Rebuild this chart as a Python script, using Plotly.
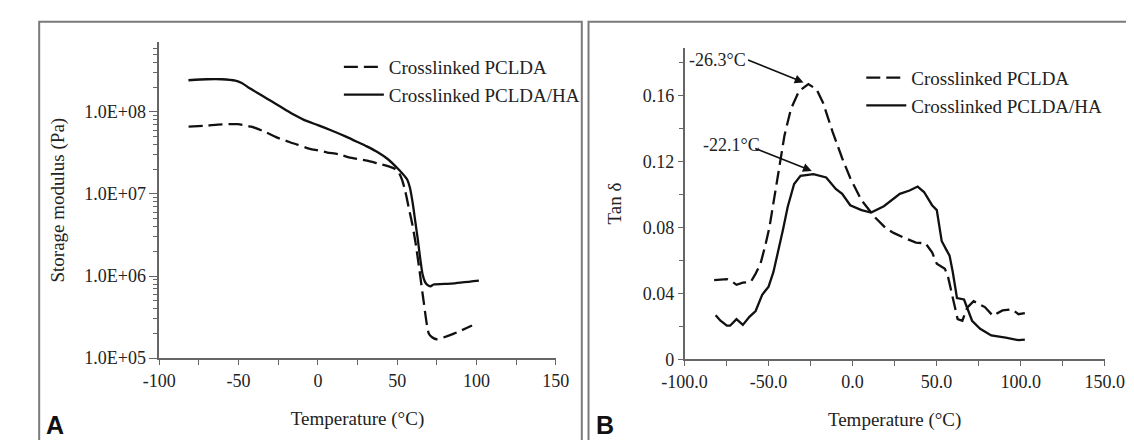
import plotly.graph_objects as go

# ---------------- Data ----------------
# Panel A: storage modulus (Pa) vs temperature (°C)
a_temp_pclda = [-81.5, -70, -63, -50.5, -42, -35, -26, -18, -13, -5, 0, 6, 13, 19.5, 26, 31, 38,
                43.6, 48, 50.5, 53, 55, 57.5, 59.5, 61.5, 64, 66.5, 69.9, 72, 75, 86, 97.2]
a_mod_pclda = [6.6e7, 6.8e7, 7.0e7, 7.1e7, 6.6e7, 5.9e7, 4.9e7, 4.3e7, 4.0e7, 3.55e7, 3.4e7, 3.2e7,
               3.05e7, 2.8e7, 2.65e7, 2.55e7, 2.35e7, 2.2e7, 2.05e7, 1.9e7, 1.5e7, 1.1e7, 6.5e6,
               4.3e6, 2.6e6, 1.2e6, 5.2e5, 2.0e5, 1.8e5, 1.7e5, 2.0e5, 2.5e5]
a_temp_ha = [-81.6, -70, -60.7, -52, -48, -44, -38, -32, -26.4, -20, -15, -8.8, 0, 9, 17.7, 25,
             30.9, 38, 44.2, 50.8, 54.7, 56.3, 58, 59.8, 61.5, 63, 64, 65, 66, 67.5, 69, 71, 72.9,
             84, 101.5]
a_mod_ha = [2.43e8, 2.5e8, 2.5e8, 2.4e8, 2.25e8, 2.0e8, 1.7e8, 1.45e8, 1.25e8, 1.05e8, 9.2e7,
            8.0e7, 6.9e7, 5.9e7, 5.0e7, 4.3e7, 3.8e7, 3.2e7, 2.65e7, 2.0e7, 1.65e7, 1.5e7, 1.2e7,
            7.7e6, 4.5e6, 2.8e6, 1.95e6, 1.4e6, 1.05e6, 8.5e5, 7.8e5, 7.5e5, 7.9e5, 8.1e5, 8.8e5]

# Panel B: tan delta vs temperature (°C)
b_temp_pclda = [-82.4, -74.8, -71.5, -69.1, -65.3, -60.5, -57.7, -54.8, -52, -49.5, -44.3, -40.5,
                -36.7, -31.9, -26.3, -21.4, -17.6, -11.9, -6.2, -1.4, 5.3, 12.9, 19.6, 24.4, 30,
                37.7, 43.4, 47.3, 50.1, 54.9, 56.8, 59.6, 62.5, 65.3, 68.2, 72, 78.7, 83.5, 89.2,
                94.9, 98.7, 102.5]
b_tan_pclda = [0.0481, 0.0487, 0.047, 0.0452, 0.0465, 0.0471, 0.052, 0.058, 0.0689, 0.080, 0.1123,
               0.136, 0.1518, 0.1627, 0.167, 0.1637, 0.1557, 0.138, 0.122, 0.110, 0.0965, 0.0866,
               0.0797, 0.0767, 0.074, 0.0708, 0.0704, 0.0649, 0.058, 0.055, 0.050, 0.0372, 0.0244,
               0.0234, 0.0313, 0.0353, 0.0317, 0.0264, 0.0297, 0.0303, 0.0274, 0.028]
b_temp_ha = [-81.5, -78.6, -74.8, -72.9, -69.1, -65.3, -61.4, -57.7, -53.8, -50, -47.1, -44.3,
             -41.4, -38.6, -34.8, -31, -23.3, -15.7, -10, -6.2, -1.4, 5.3, 11, 18.6, 28.1, 33.9,
             38.7, 42.5, 47.3, 50.1, 53, 55.8, 57.7, 59.6, 62.1, 66.3, 68.2, 71.1, 75.9, 82.5,
             91.1, 94.9, 98.7, 102.5]
b_tan_ha = [0.0268, 0.0234, 0.0204, 0.0204, 0.0244, 0.0209, 0.0258, 0.0293, 0.0392, 0.0441, 0.053,
            0.0649, 0.0787, 0.0926, 0.1064, 0.1113, 0.1123, 0.1103, 0.1034, 0.1004, 0.0935, 0.0905,
            0.089, 0.0929, 0.1004, 0.1024, 0.1048, 0.1015, 0.0935, 0.0905, 0.0718, 0.0664, 0.0629,
            0.053, 0.0372, 0.0363, 0.0313, 0.0234, 0.0185, 0.0145, 0.0132, 0.0126, 0.0116, 0.012]

series_names = ["Crosslinked PCLDA", "Crosslinked PCLDA/HA"]
x_tickvals = [-100, -50, 0, 50, 100, 150]
a_xticktext = ["-100", "-50", "0", "50", "100", "150"]
b_xticktext = ["-100.0", "-50.0", "0.0", "50.0", "100.0", "150.0"]
a_ytickvals = [1e5, 1e6, 1e7, 1e8]
a_yticktext = ["1.0E+05", "1.0E+06", "1.0E+07", "1.0E+08"]
b_ytickvals = [0, 0.04, 0.08, 0.12, 0.16]
b_yticktext = ["0", "0.04", "0.08", "0.12", "0.16"]
peak_labels = ["-26.3°C", "-22.1°C"]

# ---------------- Figure ----------------
W, H = 1134, 440
FONT = "Liberation Serif, Times New Roman, serif"
LINE_C = "#111111"
AXIS_C = "#666666"
DASH = "14px,6px"

def px_x(p):
    return p / W

def px_y(p):
    return 1 - p / H

fig = go.Figure()

fig.add_trace(go.Scatter(x=a_temp_pclda, y=a_mod_pclda, mode="lines", name=series_names[0],
                         line=dict(color=LINE_C, width=2.3, dash=DASH, shape="spline", smoothing=0.6),
                         xaxis="x", yaxis="y", legend="legend"))
fig.add_trace(go.Scatter(x=a_temp_ha, y=a_mod_ha, mode="lines", name=series_names[1],
                         line=dict(color=LINE_C, width=2.3, shape="spline", smoothing=0.6),
                         xaxis="x", yaxis="y", legend="legend"))
fig.add_trace(go.Scatter(x=b_temp_pclda, y=b_tan_pclda, mode="lines", name=series_names[0],
                         line=dict(color=LINE_C, width=2.3, dash=DASH),
                         xaxis="x2", yaxis="y2", legend="legend2"))
fig.add_trace(go.Scatter(x=b_temp_ha, y=b_tan_ha, mode="lines", name=series_names[1],
                         line=dict(color=LINE_C, width=2.3),
                         xaxis="x2", yaxis="y2", legend="legend2"))

tickfont = dict(family=FONT, size=18, color="#222")
titlefont = dict(family=FONT, size=19, color="#222")

xcommon = dict(range=[-100, 150], tickmode="array", tickvals=x_tickvals,
               showgrid=False, zeroline=False,
               showline=True, linecolor=AXIS_C, linewidth=1.5, ticks="outside", ticklen=5,
               tickcolor=AXIS_C, tickwidth=1.3, tickfont=tickfont,
               minor=dict(tickmode="linear", dtick=25, tick0=-100, ticks="outside", ticklen=5,
                          tickcolor=AXIS_C, tickwidth=1.3, showgrid=False),
               title=dict(text="Temperature (°C)", font=titlefont, standoff=22))

a_minor = [m * 10 ** e for e in range(5, 9) for m in range(2, 10) if m * 10 ** e < 7e8]

fig.update_layout(
    width=W, height=H, margin=dict(l=0, r=0, t=0, b=0),
    paper_bgcolor="white", plot_bgcolor="white",
    font=dict(family=FONT, color="#222"),
    xaxis=dict(domain=[px_x(133.3), px_x(545.5)], anchor="y", ticktext=a_xticktext, **xcommon),
    yaxis=dict(domain=[px_y(358.3), px_y(35)], anchor="x", type="log", range=[5, 8.849],
               tickmode="array", tickvals=a_ytickvals, ticktext=a_yticktext,
               showgrid=False, zeroline=False, showline=True, linecolor=AXIS_C, linewidth=1.5,
               ticks="outside", ticklen=8, tickcolor=AXIS_C, tickwidth=1.3, tickfont=tickfont,
               minor=dict(tickmode="array", tickvals=a_minor, ticks="outside", ticklen=4,
                          tickcolor=AXIS_C, tickwidth=1.1, showgrid=False),
               title=dict(text="Storage modulus (Pa)", font=titlefont, standoff=15)),
    xaxis2=dict(domain=[px_x(679.3), px_x(1116)], anchor="y2", ticktext=b_xticktext, **xcommon),
    yaxis2=dict(domain=[px_y(359.5), px_y(40.7)], anchor="x2", range=[0, 0.189],
                tickmode="array", tickvals=b_ytickvals, ticktext=b_yticktext,
                showgrid=False, zeroline=False, showline=True, linecolor=AXIS_C, linewidth=1.5,
                ticks="outside", ticklen=5, tickcolor=AXIS_C, tickwidth=1.3, tickfont=tickfont,
                minor=dict(tickmode="linear", dtick=0.02, tick0=0, ticks="outside", ticklen=4,
                           tickcolor=AXIS_C, tickwidth=1.1, showgrid=False),
                title=dict(text="Tan δ", font=titlefont, standoff=16)),
    legend=dict(x=px_x(320), y=px_y(41), xanchor="left", yanchor="top",
                bgcolor="rgba(0,0,0,0)", font=dict(family=FONT, size=19, color="#222"),
                itemwidth=40, tracegroupgap=0),
    legend2=dict(x=px_x(863), y=px_y(52), xanchor="left", yanchor="top",
                 bgcolor="rgba(0,0,0,0)", font=dict(family=FONT, size=19, color="#222"),
                 itemwidth=40, tracegroupgap=0),
    showlegend=True,
)

# Panel frames
fig.add_shape(type="rect", xref="paper", yref="paper", x0=px_x(8.5), x1=px_x(572.5),
              y0=-0.02, y1=px_y(14), line=dict(color="#7a7a7a", width=2), layer="below")
fig.add_shape(type="rect", xref="paper", yref="paper", x0=px_x(579.5), x1=1.02,
              y0=-0.02, y1=px_y(14), line=dict(color="#7a7a7a", width=2), layer="below")

# Panel letters
fig.add_annotation(text="<b>A</b>", xref="paper", yref="paper", x=px_x(14), y=px_y(427),
                   xanchor="left", yanchor="middle", showarrow=False,
                   font=dict(family="Liberation Sans, Arial, sans-serif", size=25, color="#111"))
fig.add_annotation(text="<b>B</b>", xref="paper", yref="paper", x=px_x(585), y=px_y(427),
                   xanchor="left", yanchor="middle", showarrow=False,
                   font=dict(family="Liberation Sans, Arial, sans-serif", size=25, color="#111"))

# Peak annotations in panel B (text + arrow)
ann_font = dict(family=FONT, size=18, color="#222")
fig.add_annotation(text=peak_labels[0], xref="x2", yref="y2", x=-80.4, y=0.1816,
                   showarrow=False, font=ann_font)
fig.add_annotation(text="", xref="x2", yref="y2", x=-29.2, y=0.168, ax=-57, ay=-23,
                   showarrow=True, arrowhead=2, arrowsize=1.1, arrowwidth=1.6, arrowcolor="#111")
fig.add_annotation(text=peak_labels[1], xref="x2", yref="y2", x=-72.3, y=0.130,
                   showarrow=False, font=ann_font)
fig.add_annotation(text="", xref="x2", yref="y2", x=-24.3, y=0.1143, ax=-58, ay=-23,
                   showarrow=True, arrowhead=2, arrowsize=1.1, arrowwidth=1.6, arrowcolor="#111")

fig.write_html("out.html")
